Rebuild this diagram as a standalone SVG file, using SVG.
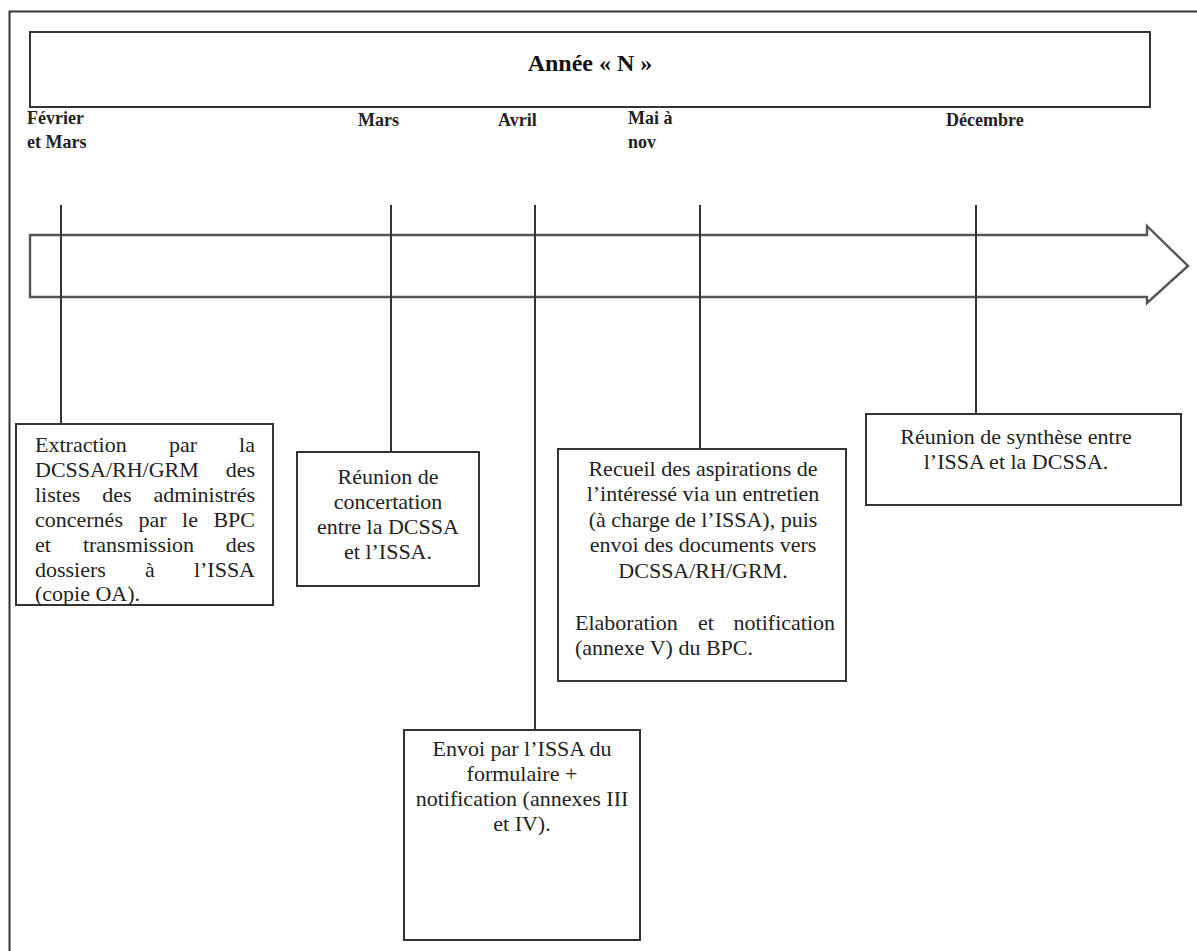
<svg xmlns="http://www.w3.org/2000/svg" width="1197" height="951" viewBox="0 0 1197 951">
<style>
.frame{fill:none;stroke:#333;stroke-width:2}
.box{fill:#fff;stroke:#333;stroke-width:2}
.conn{fill:none;stroke:#333;stroke-width:2}
.arrow{fill:#fff;stroke:#555;stroke-width:2.4;stroke-linejoin:miter}
.t{font-family:"Liberation Serif","Times New Roman",serif;font-size:22px;fill:#222}
.m{font-family:"Liberation Serif","Times New Roman",serif;font-size:18px;font-weight:bold;fill:#222}
.title{font-family:"Liberation Serif","Times New Roman",serif;font-size:24px;font-weight:bold;fill:#111}
.c{text-anchor:middle}
.e{text-anchor:end}
</style>
<rect width="1197" height="951" fill="#fff"/>
<rect class="frame" x="9.5" y="11.5" width="1200" height="960"/>
<g id="header">
<rect class="box" x="30" y="32" width="1120" height="75"/>
<text class="title c" x="590" y="71">Année « N »</text>
</g>
<g id="timeline">
<polygon class="arrow" points="30,235 1147,235 1147,226 1188,266 1147,303 1147,297 30,297"/>
</g>
<g id="months">
<text class="m" x="27" y="124">Février</text>
<text class="m" x="27" y="148">et Mars</text>
<text class="m" x="358" y="126">Mars</text>
<text class="m" x="498" y="126">Avril</text>
<text class="m" x="628" y="124">Mai à</text>
<text class="m" x="628" y="148">nov</text>
<text class="m" x="946" y="126">Décembre</text>
</g>
<g id="connectors">
<line class="conn" x1="61" y1="205" x2="61" y2="424"/>
<line class="conn" x1="391" y1="205" x2="391" y2="452"/>
<line class="conn" x1="535" y1="205" x2="535" y2="730"/>
<line class="conn" x1="700" y1="205" x2="700" y2="449"/>
<line class="conn" x1="976" y1="205" x2="976" y2="414"/>
</g>
<g id="node-fevrier">
<rect class="box" x="16" y="424" width="257" height="181"/>
<text class="t" x="35" y="452">Extraction</text>
<text class="t c" x="183" y="452">par</text>
<text class="t e" x="255" y="452">la</text>
<text class="t" x="35" y="477">DCSSA/RH/GRM</text>
<text class="t e" x="255" y="477">des</text>
<text class="t" x="35" y="502">listes</text>
<text class="t c" x="117" y="502">des</text>
<text class="t e" x="255" y="502">administrés</text>
<text class="t" x="35" y="527">concernés</text>
<text class="t c" x="152.5" y="527">par</text>
<text class="t c" x="190" y="527">le</text>
<text class="t e" x="255" y="527">BPC</text>
<text class="t" x="35" y="552">et</text>
<text class="t c" x="138.5" y="552">transmission</text>
<text class="t e" x="255" y="552">des</text>
<text class="t" x="35" y="577">dossiers</text>
<text class="t c" x="150" y="577">à</text>
<text class="t e" x="255" y="577">l’ISSA</text>
<text class="t" x="35" y="601">(copie OA).</text>
</g>
<g id="node-mars">
<rect class="box" x="297" y="452" width="182" height="134"/>
<text class="t c" x="388" y="484">Réunion de</text>
<text class="t c" x="388" y="509">concertation</text>
<text class="t c" x="388" y="534">entre la DCSSA</text>
<text class="t c" x="388" y="559">et l’ISSA.</text>
</g>
<g id="node-avril">
<rect class="box" x="404" y="730" width="236" height="210"/>
<text class="t c" x="522" y="756">Envoi par l’ISSA du</text>
<text class="t c" x="522" y="781">formulaire +</text>
<text class="t c" x="522" y="806">notification (annexes III</text>
<text class="t c" x="522" y="831">et IV).</text>
</g>
<g id="node-mai">
<rect class="box" x="558" y="449" width="288" height="232"/>
<text class="t c" x="703" y="476">Recueil des aspirations de</text>
<text class="t c" x="703" y="501">l’intéressé via un entretien</text>
<text class="t c" x="703" y="527">(à charge de l’ISSA), puis</text>
<text class="t c" x="703" y="552">envoi des documents vers</text>
<text class="t c" x="703" y="578">DCSSA/RH/GRM.</text>
<text class="t" x="575" y="630">Elaboration</text>
<text class="t c" x="706" y="630">et</text>
<text class="t e" x="835" y="630">notification</text>
<text class="t" x="575" y="655">(annexe V) du BPC.</text>
</g>
<g id="node-decembre">
<rect class="box" x="866" y="414" width="315" height="91"/>
<text class="t c" x="1016" y="444">Réunion de synthèse entre</text>
<text class="t c" x="1016" y="469">l’ISSA et la DCSSA.</text>
</g>
</svg>
